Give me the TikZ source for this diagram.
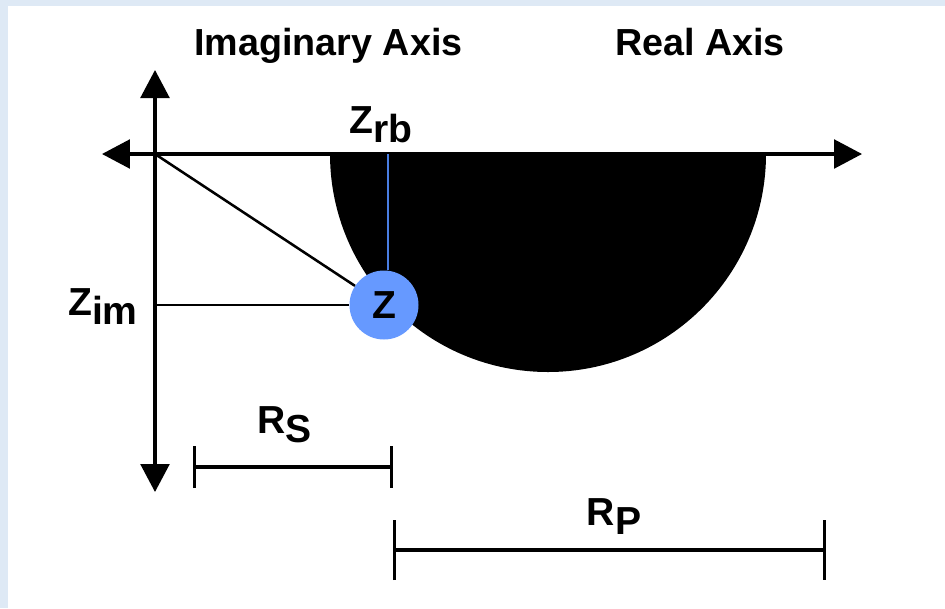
\documentclass[tikz,border=0pt]{standalone}
\usepackage{fontspec}
\setmainfont{Liberation Sans}
\usepackage{tikz}
\usetikzlibrary{arrows.meta}

\definecolor{framebg}{RGB}{222,233,245}
\definecolor{zblue}{RGB}{102,153,255}
\definecolor{zline}{RGB}{74,126,226}
\newcommand{\lowsub}[1]{\raisebox{-6.6pt}{#1}}

\tikzset{
  axis/.style={line width=2.2pt, {Triangle[length=0.7cm,width=0.72cm]}-{Triangle[length=0.7cm,width=0.72cm]}},
  guide/.style={line width=1.8pt},
  dimline/.style={line width=2.3pt, {Bar[width=#1]}-{Bar[width=#1]}},
  lbl/.style={inner sep=0pt, font=\bfseries\fontsize{27.8}{32}\selectfont},
  ttl/.style={inner sep=0pt, font=\bfseries\fontsize{26.8}{31}\selectfont},
  zdot/.style={circle, fill=zblue, minimum size=1.725cm, inner sep=0pt, font=\bfseries\fontsize{27.8}{32}\selectfont}
}

\begin{document}
\begin{tikzpicture}
				\fill[framebg] (-3.875,3.85) rectangle (19.75,-11.35);
				\fill[white] (-3.675,3.7) rectangle (19.75,-11.35);
				\useasboundingbox (-3.875,3.85) rectangle (19.75,-11.35);
				
				\coordinate (o) at (0,0);
				\fill[black] (4.375,0) arc[start angle=180, end angle=360, radius=5.45] -- cycle;
				
				\coordinate (ytop) at (0,2.1);
				\coordinate (ybot) at (0,-8.45);
				\coordinate (xleft) at (-1.325,0);
				\coordinate (xright) at (17.675,0);
				\draw[axis] (ybot) -- (ytop);
				\draw[axis] (xleft) -- (xright);
				
				\node[zdot] (z) at (5.725,-3.775) {Z};
				\coordinate (rb) at (5.825,0);
				\draw[guide] (o) -- (z);
				\draw[guide] (z.west) -- (z.west -| o);
				\draw[guide, zline] (rb) -- (rb |- z.north);
				
				\node[ttl, anchor=base] (imag) at (4.3375,2.475) {Imaginary Axis};
				\node[ttl, anchor=base] (real) at (13.625,2.475) {Real Axis};
				\node[lbl, anchor=base] (zrb) at (5.65,0.525) {Z\lowsub{rb}};
				\node[lbl, anchor=base east] (zim) at (-0.425,-4.025) {Z\lowsub{im}};
				
				\coordinate (rs1) at (0.95,-7.825);
				\coordinate (rs2) at (5.95,-7.825);
				\draw[dimline=1.05cm] (rs1) -- (rs2);
				\node[lbl, anchor=base] (rs) at (3.2375,-6.975) {R\lowsub{S}};
				
				\coordinate (rp1) at (5.95,-9.9);
				\coordinate (rp2) at (16.775,-9.9);
				\draw[dimline=1.5cm] (rp1) -- (rp2);
				\node[lbl, anchor=base] (rp) at (11.475,-9.275) {R\lowsub{P}};
\end{tikzpicture}
\end{document}
